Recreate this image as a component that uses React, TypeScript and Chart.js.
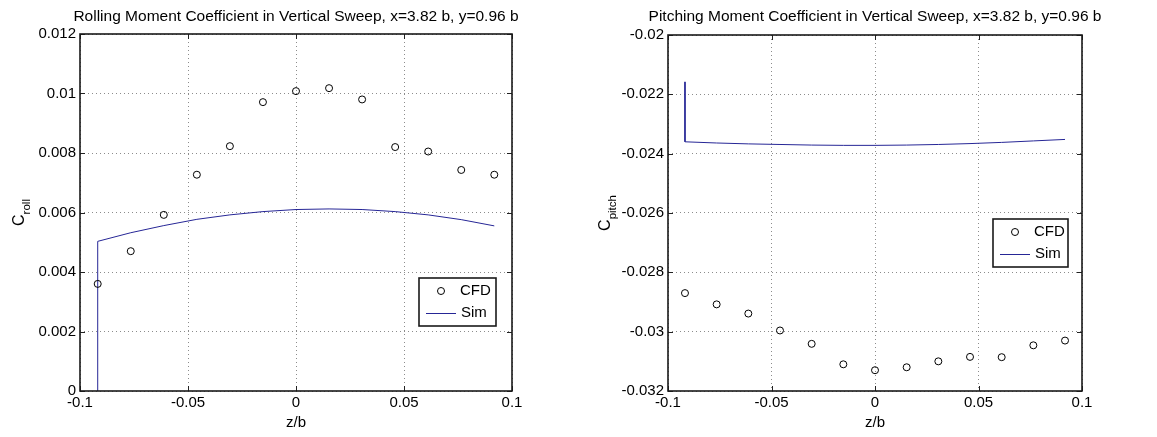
import { useEffect, useRef } from 'react';
import { Chart, registerables } from 'chart.js';

Chart.register(...registerables);

// Vertical sweep stations (z/b) where the CFD cases were run
const zStations = [-0.0918, -0.0765, -0.0612, -0.0459, -0.0306, -0.0153, 0, 0.0153, 0.0306, 0.0459, 0.0612, 0.0765, 0.0918];

// CFD results
const rollCfd = [0.0036, 0.0047, 0.00592, 0.00727, 0.00823, 0.00971, 0.01008, 0.01018, 0.0098, 0.0082, 0.00805, 0.00743, 0.00727];
const pitchCfd = [-0.0287, -0.02908, -0.02939, -0.02996, -0.03041, -0.0311, -0.0313, -0.0312, -0.031, -0.03085, -0.03086, -0.03046, -0.0303];

// Simulation sweep (first sample is the start-up transient at the first station)
const simZ = [-0.0918, -0.0918, -0.0765, -0.0612, -0.0459, -0.0306, -0.0153, 0, 0.0153, 0.0306, 0.0459, 0.0612, 0.0765, 0.0918];
const rollSim = [0, 0.00503, 0.00532, 0.00556, 0.00577, 0.00592, 0.00603, 0.0061, 0.00612, 0.0061, 0.00603, 0.00592, 0.00576, 0.00555];
const pitchSim = [-0.02158, -0.0236, -0.02364, -0.02367, -0.02369, -0.02371, -0.02372, -0.02372, -0.02371, -0.02369, -0.02366, -0.02362, -0.02357, -0.02352];

// Axis ticks
const xTickValues = [-0.1, -0.05, 0, 0.05, 0.1];
const xTickLabels = ['-0.1', '-0.05', '0', '0.05', '0.1'];
const rollTickValues = [0, 0.002, 0.004, 0.006, 0.008, 0.01, 0.012];
const rollTickLabels = ['0', '0.002', '0.004', '0.006', '0.008', '0.01', '0.012'];
const pitchTickValues = [-0.032, -0.03, -0.028, -0.026, -0.024, -0.022, -0.02];
const pitchTickLabels = ['-0.032', '-0.03', '-0.028', '-0.026', '-0.024', '-0.022', '-0.02'];

const FONT = "'Liberation Sans', Arial, Helvetica, sans-serif";
const HEIGHT = 437;
const SIM_COLOR = 'rgb(38,38,150)';

type PanelSpec = {
  title: string;
  ySymbol: string;
  ySub: string;
  cfd: number[];
  sim: number[];
  yTicks: number[];
  yLabels: string[];
  width: number;
  offset: number;
  area: { left: number; top: number; right: number; bottom: number };
  yLabelBase: number;
  legend: { x: number; y: number; w: number; h: number };
};

const panels: PanelSpec[] = [
  {
    title: 'Rolling Moment Coefficient in Vertical Sweep, x=3.82 b, y=0.96 b',
    ySymbol: 'C',
    ySub: 'roll',
    cfd: rollCfd,
    sim: rollSim,
    yTicks: rollTickValues,
    yLabels: rollTickLabels,
    width: 575,
    offset: 0,
    area: { left: 80, top: 34, right: 512, bottom: 391 },
    yLabelBase: 24,
    legend: { x: 419, y: 278, w: 77, h: 48 },
  },
  {
    title: 'Pitching Moment Coefficient in Vertical Sweep, x=3.82 b, y=0.96 b',
    ySymbol: 'C',
    ySub: 'pitch',
    cfd: pitchCfd,
    sim: pitchSim,
    yTicks: pitchTickValues,
    yLabels: pitchTickLabels,
    width: 582,
    offset: 575,
    area: { left: 93, top: 35, right: 507, bottom: 391 },
    yLabelBase: 35,
    legend: { x: 418, y: 219, w: 75, h: 48 },
  },
];

function line(ctx: CanvasRenderingContext2D, x1: number, y1: number, x2: number, y2: number) {
  ctx.beginPath();
  ctx.moveTo(x1, y1);
  ctx.lineTo(x2, y2);
  ctx.stroke();
}

function axesDecor(p: PanelSpec) {
  return {
    id: 'axesDecor',
    afterDatasetsDraw(chart: any) {
      const { ctx, chartArea: a, scales } = chart;
      ctx.save();
      // inward tick marks on all four sides
      ctx.strokeStyle = '#222';
      ctx.lineWidth = 1;
      const tick = 5;
      xTickValues.forEach((v) => {
        const px = Math.round(scales.x.getPixelForValue(v)) + 0.5;
        line(ctx, px, a.bottom, px, a.bottom - tick);
        line(ctx, px, a.top, px, a.top + tick);
      });
      p.yTicks.forEach((v) => {
        const py = Math.round(scales.y.getPixelForValue(v)) + 0.5;
        line(ctx, a.left, py, a.left + tick, py);
        line(ctx, a.right, py, a.right - tick, py);
      });
      // axes box
      ctx.lineWidth = 1.6;
      ctx.strokeStyle = '#1a1a1a';
      ctx.strokeRect(a.left, a.top, a.right - a.left, a.bottom - a.top);

      // legend
      const L = p.legend;
      ctx.fillStyle = '#fff';
      ctx.fillRect(L.x, L.y, L.w, L.h);
      ctx.lineWidth = 1.6;
      ctx.strokeStyle = '#1a1a1a';
      ctx.strokeRect(L.x, L.y, L.w, L.h);
      ctx.lineWidth = 1;
      ctx.strokeStyle = '#000';
      ctx.beginPath();
      ctx.arc(L.x + 22, L.y + 13, 3.5, 0, Math.PI * 2);
      ctx.stroke();
      ctx.strokeStyle = SIM_COLOR;
      line(ctx, L.x + 7, L.y + 35.5, L.x + 37, L.y + 35.5);
      ctx.fillStyle = '#000';
      ctx.font = `15px ${FONT}`;
      ctx.textAlign = 'left';
      ctx.textBaseline = 'middle';
      ctx.fillText('CFD', L.x + 41, L.y + 13);
      ctx.fillText('Sim', L.x + 42, L.y + 35);
      ctx.restore();
    },
    afterDraw(chart: any) {
      const { ctx, chartArea: a } = chart;
      const cx = (a.left + a.right) / 2;
      const cy = (a.top + a.bottom) / 2;
      ctx.save();
      ctx.fillStyle = '#000';
      ctx.textBaseline = 'alphabetic';
      ctx.textAlign = 'center';
      ctx.font = `15.5px ${FONT}`;
      ctx.fillText(p.title, cx, 21);
      ctx.font = `15px ${FONT}`;
      ctx.fillText('z/b', cx, 427);

      // rotated y label with subscript
      ctx.translate(p.yLabelBase, cy);
      ctx.rotate(-Math.PI / 2);
      ctx.textAlign = 'left';
      ctx.font = `16px ${FONT}`;
      const wMain = ctx.measureText(p.ySymbol).width;
      ctx.font = `11.5px ${FONT}`;
      const wSub = ctx.measureText(p.ySub).width;
      const start = -(wMain + wSub) / 2;
      ctx.font = `16px ${FONT}`;
      ctx.fillText(p.ySymbol, start, 0);
      ctx.font = `11.5px ${FONT}`;
      ctx.fillText(p.ySub, start + wMain, 6);
      ctx.restore();
    },
  };
}

function Panel({ p }: { p: PanelSpec }) {
  const ref = useRef<HTMLCanvasElement>(null);
  useEffect(() => {
    const tickFont = { family: FONT, size: 15 };
    const chart = new Chart(ref.current as HTMLCanvasElement, {
      type: 'scatter',
      data: {
        datasets: [
          {
            label: 'CFD',
            data: zStations.map((z, i) => ({ x: z, y: p.cfd[i] })),
            showLine: false,
            pointStyle: 'circle',
            pointRadius: 3.5,
            pointBorderWidth: 1,
            pointBorderColor: '#000',
            pointBackgroundColor: 'rgba(0,0,0,0)',
          },
          {
            label: 'Sim',
            data: simZ.map((z, i) => ({ x: z, y: p.sim[i] })),
            showLine: true,
            pointRadius: 0,
            borderColor: SIM_COLOR,
            borderWidth: 1,
            tension: 0,
            fill: false,
          },
        ],
      },
      options: {
        animation: false,
        responsive: false,
        events: [],
        layout: { padding: { left: 0, top: p.area.top, right: p.width - p.area.right, bottom: 0 } },
        plugins: { legend: { display: false }, tooltip: { enabled: false } },
        scales: {
          x: {
            type: 'linear',
            min: -0.1,
            max: 0.1,
            afterBuildTicks: (s: any) => {
              s.ticks = xTickValues.map((value) => ({ value }));
            },
            afterFit: (s: any) => {
              s.height = HEIGHT - p.area.bottom;
            },
            ticks: {
              callback: (_v: any, i: number) => xTickLabels[i],
              padding: 3,
              color: '#000',
              font: tickFont,
              maxRotation: 0,
              autoSkip: false,
            },
            grid: { color: '#8c8c8c', lineWidth: 1, drawTicks: false },
            border: { display: false, dash: [1, 3] },
          },
          y: {
            type: 'linear',
            min: p.yTicks[0],
            max: p.yTicks[p.yTicks.length - 1],
            afterBuildTicks: (s: any) => {
              s.ticks = p.yTicks.map((value) => ({ value }));
            },
            afterFit: (s: any) => {
              s.width = p.area.left;
            },
            ticks: {
              callback: (_v: any, i: number) => p.yLabels[i],
              padding: 4,
              color: '#000',
              font: tickFont,
              autoSkip: false,
            },
            grid: { color: '#8c8c8c', lineWidth: 1, drawTicks: false },
            border: { display: false, dash: [1, 3] },
          },
        },
      },
      plugins: [axesDecor(p)],
    } as any);
    return () => chart.destroy();
  }, [p]);
  return (
    <canvas
      ref={ref}
      width={p.width}
      height={HEIGHT}
      style={{ position: 'absolute', left: p.offset, top: 0, width: p.width, height: HEIGHT }}
    />
  );
}

export default function App() {
  return (
    <div style={{ position: 'absolute', left: 0, top: 0, width: 1157, height: HEIGHT, background: '#fff', overflow: 'hidden' }}>
      {panels.map((p) => (
        <Panel key={p.ySub} p={p} />
      ))}
    </div>
  );
}
